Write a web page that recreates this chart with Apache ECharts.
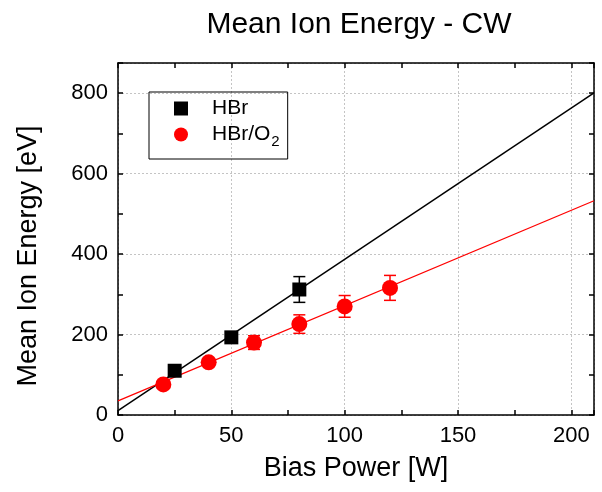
<!DOCTYPE html>
<html>
<head>
<meta charset="utf-8">
<script src="https://cdn.jsdelivr.net/npm/echarts@6/dist/echarts.min.js"></script>
<style>html, body { margin: 0; background: #fff; }</style>
</head>
<body>
<div id="chart" style="width: 602px; height: 492px"></div>
<script>
// HBr
const hbrPower = [25, 50, 80];
const hbrEnergy = [110, 193, 312];
const hbrError = [6, 11, 32];
// HBr/O2
const o2Power = [20, 40, 60, 80, 100, 120];
const o2Energy = [76, 131, 180, 226, 270, 316];
const o2Error = [6, 8, 17, 23, 27, 31];
// linear fits: [intercept, slope]
const hbrFit = [11, 3.76];
const o2Fit = [35, 2.37];
const fitRange = [0, 210];

const font = "'Liberation Sans', Arial, sans-serif";
const black = '#000';
const red = '#ff0000';

const chart = echarts.init(document.getElementById('chart'));

// error bars with caps
function errorBars(xs, ys, es, color) {
  return {
    type: 'custom',
    silent: true,
    z: 3,
    data: xs.map((x, i) => [x, ys[i] - es[i], ys[i] + es[i]]),
    encode: { x: 0, y: [1, 2] },
    renderItem: (params, api) => {
      const lo = api.coord([api.value(0), api.value(1)]);
      const hi = api.coord([api.value(0), api.value(2)]);
      const w = 6;
      const style = { stroke: color, lineWidth: 1.5 };
      return {
        type: 'group',
        children: [
          { type: 'line', shape: { x1: hi[0], y1: hi[1], x2: lo[0], y2: lo[1] }, style },
          { type: 'line', shape: { x1: hi[0] - w, y1: hi[1], x2: hi[0] + w, y2: hi[1] }, style },
          { type: 'line', shape: { x1: lo[0] - w, y1: lo[1], x2: lo[0] + w, y2: lo[1] }, style }
        ]
      };
    }
  };
}

function fitLine(fit, color, width) {
  return {
    type: 'line',
    silent: true,
    showSymbol: false,
    z: 2,
    data: fitRange.map(x => [x, fit[0] + fit[1] * x]),
    lineStyle: { color: color, width: width }
  };
}

// fresh objects for each axis
const axisLine = () => ({ show: true, onZero: false, lineStyle: { color: black, width: 1.5 } });
const tick = () => ({ show: true, inside: true, length: 5, lineStyle: { color: black, width: 1.5 } });
const grid = () => ({ show: true, lineStyle: { color: '#c4c4c4', type: [2, 2], width: 1 } });

const option = {
  animation: false,
  textStyle: { fontFamily: font },
  title: {
    text: 'Mean Ion Energy - CW',
    left: 354,
    top: 5,
    textAlign: 'center',
    textStyle: { fontSize: 30, fontWeight: 'normal', color: black, fontFamily: font }
  },
  legend: {
    left: 149,
    top: 92,
    orient: 'vertical',
    padding: [6, 8, 10, 25],
    itemGap: 5,
    itemWidth: 14,
    itemHeight: 14,
    borderColor: black,
    borderWidth: 1,
    borderRadius: 0,
    data: [
      { name: 'HBr', icon: 'rect' },
      { name: 'HBr/O2', icon: 'circle' }
    ],
    formatter: name => name === 'HBr/O2' ? '{t|HBr/O}{s|2}' : '{t|HBr}',
    textStyle: {
      padding: [0, 0, 0, 19],
      rich: {
        t: { fontSize: 21, color: black, fontFamily: font, lineHeight: 22 },
        s: { fontSize: 15, color: black, fontFamily: font, padding: [14, 0, 0, 1] }
      }
    }
  },
  grid: { left: 118, right: 8, top: 63, bottom: 77 },
  xAxis: [
    {
      type: 'value', position: 'bottom', min: 0, max: 210, interval: 25,
      name: 'Bias Power [W]', nameLocation: 'middle', nameGap: 40,
      nameTextStyle: { fontSize: 27, color: black, fontFamily: font },
      axisLine: axisLine(), axisTick: tick(),
      axisLabel: { formatter: v => (v % 50 === 0 ? v : ''), fontSize: 22, color: black, margin: 10 },
      splitLine: { show: false }
    },
    {
      type: 'value', position: 'top', min: 0, max: 210, interval: 25,
      axisLine: axisLine(), axisTick: tick(), axisLabel: { show: false }, splitLine: { show: false }
    },
    {
      type: 'value', position: 'bottom', min: 0, max: 210, interval: 50,
      axisLine: { show: false }, axisTick: { show: false }, axisLabel: { show: false },
      splitLine: grid()
    }
  ],
  yAxis: [
    {
      type: 'value', position: 'left', min: 0, max: 875, interval: 100,
      name: 'Mean Ion Energy [eV]', nameLocation: 'middle', nameGap: 76,
      nameTextStyle: { fontSize: 27, color: black, fontFamily: font, padding: [0, 34, 0, 0] },
      axisLine: axisLine(), axisTick: tick(),
      axisLabel: { formatter: v => (v % 200 === 0 ? v : ''), fontSize: 22, color: black, margin: 10 },
      splitLine: { show: false }
    },
    {
      type: 'value', position: 'right', min: 0, max: 875, interval: 100,
      axisLine: axisLine(), axisTick: tick(), axisLabel: { show: false }, splitLine: { show: false }
    },
    {
      type: 'value', position: 'left', min: 0, max: 875, interval: 200,
      axisLine: { show: false }, axisTick: { show: false }, axisLabel: { show: false },
      splitLine: grid()
    }
  ],
  series: [
    fitLine(hbrFit, black, 1.5),
    fitLine(o2Fit, red, 1.2),
    errorBars(hbrPower, hbrEnergy, hbrError, black),
    errorBars(o2Power, o2Energy, o2Error, red),
    {
      name: 'HBr',
      type: 'scatter',
      symbol: 'rect',
      symbolSize: 14,
      z: 4,
      itemStyle: { color: black, opacity: 1 },
      data: hbrPower.map((x, i) => [x, hbrEnergy[i]])
    },
    {
      name: 'HBr/O2',
      type: 'scatter',
      symbol: 'circle',
      symbolSize: 16,
      z: 4,
      itemStyle: { color: red, opacity: 1 },
      data: o2Power.map((x, i) => [x, o2Energy[i]])
    }
  ]
};

chart.setOption(option);
</script>
</body>
</html>
